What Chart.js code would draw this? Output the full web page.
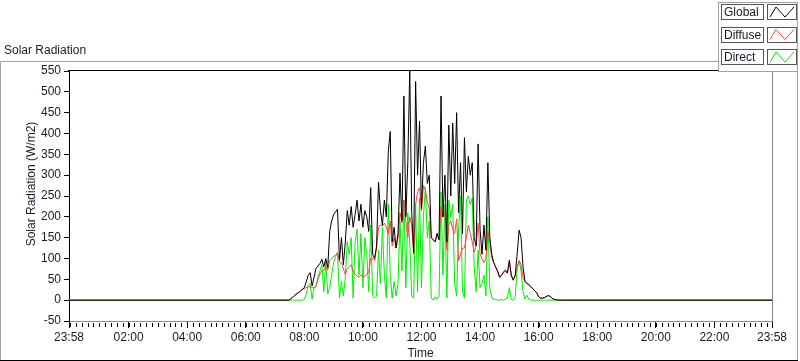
<!DOCTYPE html>
<html>
<head>
<meta charset="utf-8">
<script src="https://cdn.jsdelivr.net/npm/chart.js@4.4.1/dist/chart.umd.min.js"></script>
<style>
  html, body { margin: 0; padding: 0; background: #fff; }
  #wrap { width: 800px; height: 361px; position: relative; }
</style>
</head>
<body>
<div id="wrap"><canvas id="chart" width="800" height="361"></canvas></div>
<script>
const seriesNames = ['Global', 'Diffuse', 'Direct'];
const seriesColors = ['#000000', '#ff4040', '#00f000'];

// readings every 4 minutes, starting 07:28 (minutes after midnight)
const sampleStart = 448;
const sampleStep = 4;

const globalVals = [
  0, 3, 7, 11, 15, 18, 22, 26, 30, 44,
  60, 66, 34, 55, 76, 82, 88, 98, 80, 100,
  78, 165, 190, 205, 212, 218, 96, 150, 85, 140,
  215, 180, 225, 175, 205, 240, 190, 230, 175, 215,
  200, 165, 270, 110, 100, 130, 283, 215, 180, 240,
  200, 355, 405, 140, 175, 125, 160, 305, 190, 490,
  200, 330, 550, 210, 115, 525, 300, 430, 220, 330,
  370, 280, 300, 150, 145, 140, 160, 145, 490, 200,
  300, 140, 420, 250, 425, 280, 450, 210, 330, 160,
  390, 260, 345, 300, 330, 150, 130, 375, 170, 110,
  180, 120, 330, 150, 110, 90, 80, 70, 55, 60,
  68, 72, 65, 96, 60, 48, 60, 110, 168, 150,
  80, 45, 40, 38, 32, 28, 22, 18, 8, 5,
  5, 6, 9, 11, 9, 4, 2, 1, 0, 0, 0
];
const diffuseVals = [
  0, 3, 7, 11, 15, 18, 22, 26, 28, 30,
  32, 32, 30, 30, 35, 50, 62, 70, 72, 80,
  72, 95, 100, 105, 108, 112, 92, 90, 75, 62,
  75, 80, 85, 70, 62, 58, 55, 60, 55, 58,
  62, 68, 100, 100, 95, 125, 175, 180, 178, 185,
  175, 160, 190, 130, 150, 125, 150, 210, 185, 240,
  190, 150, 200, 180, 110, 230, 260, 270, 215, 275,
  265, 235, 220, 150, 145, 140, 160, 145, 225, 200,
  215, 120, 180, 190, 170, 160, 195, 95, 110, 125,
  125, 150, 180, 160, 140, 115, 130, 185, 110, 100,
  90, 100, 165, 140, 100, 90, 78, 68, 55, 60,
  66, 70, 65, 92, 58, 48, 58, 80, 95, 85,
  55, 45, 40, 36, 32, 28, 22, 18, 8, 5,
  5, 6, 9, 11, 9, 4, 2, 1, 0, 0, 0
];
const directVals = [
  0, 0, 0, 0, 0, 0, 0, 0, 2, 14,
  35, 40, 3, 30, 32, 56, 70, 85, 20, 95,
  15, 30, 60, 90, 105, 115, 5, 45, 10, 55,
  140, 110, 150, 5, 140, 170, 60, 160, 30, 150,
  110, 20, 180, 10, 5, 10, 120, 40, 175, 60,
  5, 230, 60, 5, 45, 10, 40, 190, 70, 240,
  30, 210, 140, 10, 5, 230, 20, 245, 30, 200,
  270, 150, 190, 5, 0, 8, 3, 10, 260, 60,
  230, 5, 240, 200, 230, 40, 10, 170, 250, 20,
  5, 240, 250, 230, 245, 80, 20, 120, 30, 40,
  60, 10, 200, 30, 5, 3, 2, 0, 0, 2,
  0, 3, 5, 30, 2, 0, 8, 75, 95, 70,
  20, 3, 12, 2, 0, 0, 0, 0, 0, 0,
  0, 0, 0, 0, 0, 0, 0, 0, 0, 0, 0
];

const xMin = -2, xMax = 1438;
const xTickMinutes = [-2, 120, 240, 360, 480, 600, 720, 840, 960, 1080, 1200, 1320, 1438];
const xTickLabels = ['23:58', '02:00', '04:00', '06:00', '08:00', '10:00', '12:00',
  '14:00', '16:00', '18:00', '20:00', '22:00', '23:58'];
const yTicks = [-50, 0, 50, 100, 150, 200, 250, 300, 350, 400, 450, 500, 550];

const FONT = '"Liberation Sans", Arial, sans-serif';
const TEXT = '#1a1a2a';

function toPoints(vals) {
  const pts = [{ x: xMin, y: 0 }];
  vals.forEach((v, i) => pts.push({ x: sampleStart + i * sampleStep, y: v }));
  pts.push({ x: xMax, y: 0 });
  return pts;
}

const allVals = [globalVals, diffuseVals, directVals];

const decor = {
  id: 'decor',
  beforeDraw(chart) {
    const c = chart.ctx;
    c.save();
    c.fillStyle = '#fff';
    c.fillRect(0, 0, chart.width, chart.height);
    // outer frame
    c.lineWidth = 1;
    c.strokeStyle = '#a0a0a0';
    c.beginPath();
    c.moveTo(0.5, 361); c.lineTo(0.5, 61.5); c.lineTo(797.5, 61.5); c.lineTo(797.5, 361);
    c.stroke();
    c.strokeStyle = '#000';
    c.beginPath(); c.moveTo(0, 360.5); c.lineTo(798, 360.5); c.stroke();

    c.fillStyle = TEXT;
    c.font = '12px ' + FONT;
    c.textBaseline = 'middle';
    c.fillText('Solar Radiation', 4, 51);

    c.translate(32, 184);
    c.rotate(-Math.PI / 2);
    c.textAlign = 'center';
    c.fillText('Solar Radiation (W/m2)', 0, 0);
    c.restore();
  },
  afterDraw(chart) {
    const c = chart.ctx;
    const { left, right, top, bottom } = chart.chartArea;
    c.save();
    c.lineWidth = 1;
    c.strokeStyle = '#000';
    c.beginPath(); c.moveTo(left - 1, top - 0.5); c.lineTo(right, top - 0.5); c.stroke();
    c.strokeStyle = '#8c8c8c';
    c.beginPath(); c.moveTo(right + 0.5, top); c.lineTo(right + 0.5, bottom + 1); c.stroke();

    // minor ticks every 12 minutes
    const xs = chart.scales.x;
    c.strokeStyle = '#000';
    c.beginPath();
    for (let m = 0; m < xMax; m += 12) {
      const px = Math.round(xs.getPixelForValue(m)) + 0.5;
      c.moveTo(px, bottom + 2); c.lineTo(px, bottom + 6);
    }
    c.stroke();

    // legend panel
    c.fillStyle = '#fff';
    c.fillRect(718, 2, 80, 70);
    c.strokeStyle = '#a0a0a0';
    c.strokeRect(718.5, 2.5, 79, 69);
    c.font = '12px ' + FONT;
    c.textBaseline = 'middle';
    seriesNames.forEach((name, i) => {
      const y = 4 + i * 22.5;
      c.strokeStyle = '#555';
      c.strokeRect(721.5, Math.round(y) + 0.5, 42, 15);
      c.strokeRect(767.5, Math.round(y) + 0.5, 29, 15);
      c.fillStyle = TEXT;
      c.fillText(name, 724, Math.round(y) + 8.5);
      c.strokeStyle = seriesColors[i];
      c.beginPath();
      c.moveTo(770, y + 13); c.lineTo(776, y + 3); c.lineTo(785, y + 13); c.lineTo(794, y + 3);
      c.stroke();
    });
    c.restore();
  }
};

new Chart(document.getElementById('chart'), {
  type: 'line',
  data: {
    datasets: seriesNames.map((name, i) => ({
      label: name,
      data: toPoints(allVals[i]),
      borderColor: seriesColors[i],
      borderWidth: 1,
      pointRadius: 0,
      tension: 0,
      fill: false
    }))
  },
  plugins: [decor],
  options: {
    responsive: false,
    animation: false,
    events: [],
    layout: { padding: { top: 71, right: 28, left: 0, bottom: 0 } },
    plugins: { legend: { display: false }, tooltip: { enabled: false } },
    scales: {
      x: {
        type: 'linear',
        min: xMin,
        max: xMax,
        afterBuildTicks: scale => { scale.ticks = xTickMinutes.map(v => ({ value: v })); },
        afterFit: scale => { scale.height = 40; },
        ticks: {
          autoSkip: false,
          maxRotation: 0,
          padding: 2,
          color: TEXT,
          font: { family: FONT, size: 12 },
          callback: (v, i) => xTickLabels[i]
        },
        grid: { drawOnChartArea: false, drawTicks: true, tickLength: 7, color: '#000' },
        border: { color: '#8c8c8c' },
        title: {
          display: true,
          text: 'Time',
          color: TEXT,
          font: { family: FONT, size: 12 },
          padding: { top: 0, bottom: 0 }
        }
      },
      y: {
        min: -50,
        max: 550,
        afterBuildTicks: scale => { scale.ticks = yTicks.map(v => ({ value: v })); },
        afterFit: scale => { scale.width = 69; },
        ticks: {
          padding: 3,
          color: TEXT,
          font: { family: FONT, size: 12 }
        },
        grid: { drawOnChartArea: false, drawTicks: true, tickLength: 5, color: '#000' },
        border: { color: '#000' }
      }
    }
  }
});
</script>
</body>
</html>
